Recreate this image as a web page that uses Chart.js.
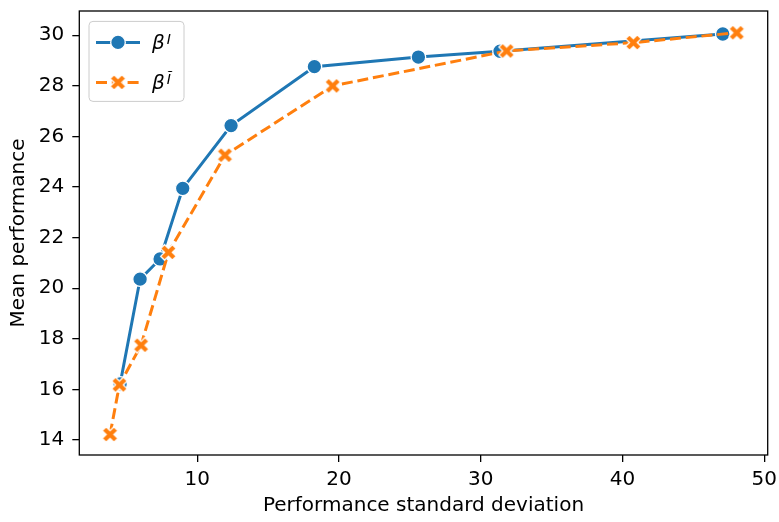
<!DOCTYPE html>
<html>
<head>
<meta charset="utf-8">
<script src="https://cdn.jsdelivr.net/npm/chart.js@4"></script>
<style>
  html, body { margin: 0; padding: 0; background: #fff; }
  canvas { display: block; }
</style>
</head>
<body>
<canvas id="chart" width="779" height="522"></canvas>
<script>
// tick labels
const xTicks = [10, 20, 30, 40, 50];
const yTicks = [14, 16, 18, 20, 22, 24, 26, 28, 30];

// beta^I  (solid, circles)
const betaStd  = [4.55, 5.96, 7.37, 8.97, 12.38, 18.26, 25.6, 31.36, 47.08];
const betaMean = [16.22, 20.36, 21.16, 23.95, 26.43, 28.76, 29.14, 29.37, 30.05];

// beta^I~  (dashed, crosses)
const betaTildeStd  = [3.84, 4.5, 6.03, 7.96, 11.95, 19.55, 31.83, 40.77, 48.07];
const betaTildeMean = [14.22, 16.18, 17.75, 21.42, 25.26, 28.0, 29.38, 29.71, 30.1];

const BLUE = '#1f77b4';
const ORANGE = '#ff7f0e';
const FONT = 'DejaVu Sans';
const DASH = [11, 4.8];

// filled "X" marker like matplotlib's, drawn once into a small canvas
function makeCross(size, color) {
  const dim = Math.ceil(size + 6);
  const c = document.createElement('canvas');
  c.width = dim; c.height = dim;
  const g = c.getContext('2d');
  const pts = [[-1,-3],[1,-3],[1,-1],[3,-1],[3,1],[1,1],[1,3],[-1,3],[-1,1],[-3,1],[-3,-1],[-1,-1]];
  const k = size / 6, r = Math.SQRT1_2;
  g.translate(dim / 2, dim / 2);
  g.beginPath();
  pts.forEach(([px, py], i) => {
    const x = (px - py) * r * k, y = (px + py) * r * k;
    if (i === 0) g.moveTo(x, y); else g.lineTo(x, y);
  });
  g.closePath();
  g.fillStyle = color;
  g.fill();
  g.lineWidth = 1.3;
  g.strokeStyle = '#fff';
  g.stroke();
  return c;
}
const crossMarker = makeCross(16.5, ORANGE);

function pairs(xs, ys) {
  return xs.map((x, i) => ({ x: x, y: ys[i] }));
}

// frame around the plot + legend box in the upper left
const frameAndLegend = {
  id: 'frameAndLegend',
  afterDatasetsDraw(chart) {
    const ctx = chart.ctx;
    const a = chart.chartArea;
    ctx.save();
    ctx.strokeStyle = '#000';
    ctx.lineWidth = 1.3;
    ctx.strokeRect(a.left, a.top, a.right - a.left, a.bottom - a.top);

    const bx = a.left + 9.7, by = a.top + 10.4, bw = 95, bh = 80;
    ctx.beginPath();
    ctx.roundRect(bx, by, bw, bh, 4);
    ctx.fillStyle = 'rgba(255,255,255,0.8)';
    ctx.fill();
    ctx.strokeStyle = '#cccccc';
    ctx.lineWidth = 1;
    ctx.stroke();

    const rows = [
      { y: by + 21, color: BLUE, dash: [], sup: 'I', circle: true },
      { y: by + 61, color: ORANGE, dash: DASH, sup: '\u0128', circle: false }
    ];
    rows.forEach(r => {
      const x0 = bx + 7, x1 = bx + 51, xm = (x0 + x1) / 2;
      ctx.beginPath();
      ctx.setLineDash(r.dash);
      ctx.strokeStyle = r.color;
      ctx.lineWidth = 3;
      ctx.moveTo(x0, r.y);
      ctx.lineTo(x1, r.y);
      ctx.stroke();
      ctx.setLineDash([]);
      if (r.circle) {
        ctx.beginPath();
        ctx.arc(xm, r.y, 7.3, 0, Math.PI * 2);
        ctx.fillStyle = r.color;
        ctx.fill();
        ctx.strokeStyle = '#fff';
        ctx.lineWidth = 1.3;
        ctx.stroke();
      } else {
        ctx.drawImage(crossMarker, xm - crossMarker.width / 2, r.y - crossMarker.height / 2);
      }
      ctx.fillStyle = '#000';
      ctx.textBaseline = 'alphabetic';
      ctx.textAlign = 'left';
      ctx.font = 'italic 20px "' + FONT + '"';
      const tx = bx + 63;
      ctx.fillText('\u03b2', tx, r.y + 7);
      const w = ctx.measureText('\u03b2').width;
      ctx.font = 'italic 14px "' + FONT + '"';
      ctx.fillText(r.sup, tx + w + 2, r.y + 1.5);
    });
    ctx.restore();
  }
};

const tickFont = { family: FONT, size: 20 };

new Chart(document.getElementById('chart'), {
  type: 'line',
  data: {
    datasets: [
      {
        label: '\u03b2^I',
        data: pairs(betaStd, betaMean),
        borderColor: BLUE,
        backgroundColor: BLUE,
        borderWidth: 3,
        pointStyle: 'circle',
        pointRadius: 7.3,
        pointBorderColor: '#fff',
        pointBorderWidth: 1.3,
        pointBackgroundColor: BLUE,
        order: 2
      },
      {
        label: '\u03b2^\u0128',
        data: pairs(betaTildeStd, betaTildeMean),
        borderColor: ORANGE,
        backgroundColor: ORANGE,
        borderWidth: 3,
        borderDash: DASH,
        pointStyle: crossMarker,
        pointRadius: 8,
        order: 1
      }
    ]
  },
  options: {
    responsive: false,
    animation: false,
    events: [],
    layout: { padding: { left: 0, right: 11.3, top: 7.3, bottom: 0 } },
    plugins: {
      legend: { display: false },
      tooltip: { enabled: false }
    },
    scales: {
      x: {
        type: 'linear',
        min: 1.67,
        max: 50.25,
        afterBuildTicks: s => { s.ticks = xTicks.map(v => ({ value: v })); },
        afterFit: s => { s.height = 67; s.paddingLeft = 0; s.paddingRight = 0; },
        border: { display: false },
        grid: { drawOnChartArea: false, drawTicks: true, tickLength: 7, color: '#000', lineWidth: 1.3 },
        ticks: { font: tickFont, color: '#000', padding: 6, maxRotation: 0, autoSkip: false },
        title: {
          display: true,
          text: 'Performance standard deviation',
          font: tickFont,
          color: '#000',
          padding: { top: 0, bottom: 4.5 }
        }
      },
      y: {
        type: 'linear',
        min: 13.41,
        max: 30.96,
        afterBuildTicks: s => { s.ticks = yTicks.map(v => ({ value: v })); },
        afterFit: s => { s.width = 79.3; s.paddingTop = 0; s.paddingBottom = 0; },
        border: { display: false },
        grid: { drawOnChartArea: false, drawTicks: true, tickLength: 7, color: '#000', lineWidth: 1.3 },
        ticks: { font: tickFont, color: '#000', padding: 8, autoSkip: false },
        title: {
          display: true,
          text: 'Mean performance',
          font: tickFont,
          color: '#000',
          padding: { top: 7, bottom: 0 }
        }
      }
    }
  },
  plugins: [frameAndLegend]
});
</script>
</body>
</html>
